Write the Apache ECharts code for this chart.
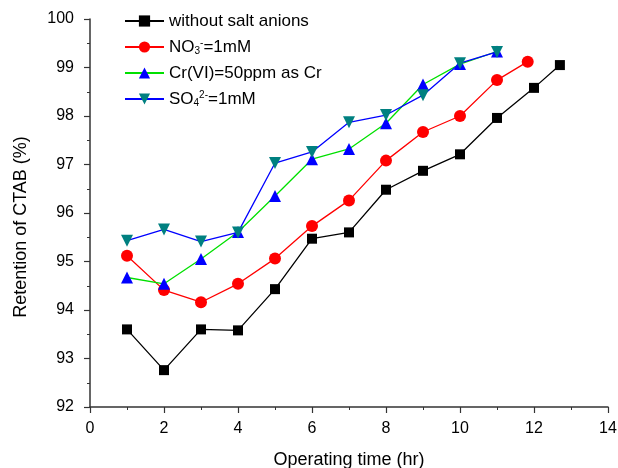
<!DOCTYPE html>
<html><head><meta charset="utf-8">
<script src="https://cdn.jsdelivr.net/npm/echarts@6/dist/echarts.min.js"></script>
<style>html,body{margin:0;padding:0;background:#fff}#c{width:618px;height:468px}</style>
</head><body><div id="c"></div>
<script>
var xNone = [1,2,3,4,5,6,7,8,9,10,11,12,12.7];
var yNone = [93.60,92.76,93.60,93.58,94.43,95.47,95.60,96.48,96.87,97.21,97.96,98.58,99.05];
var xNO3 = [1,2,3,4,5,6,7,8,9,10,11,11.83];
var yNO3 = [95.12,94.41,94.16,94.54,95.06,95.73,96.26,97.08,97.67,98.00,98.74,99.12];
var xCr = [1,2,3,4,5,6,7,8,9,10,11];
var yCr = [94.67,94.54,95.05,95.61,96.35,97.11,97.32,97.85,98.65,99.07,99.33];
var xSO4 = [1,2,3,4,5,6,7,8,9,10,11];
var ySO4 = [95.43,95.66,95.41,95.60,97.03,97.26,97.87,98.02,98.43,99.09,99.32];
var names = ['without salt anions','NO3-=1mM','Cr(VI)=50ppm as Cr','SO42-=1mM'];

function pairs(xs, ys){ return xs.map(function(x,i){ return [x, ys[i]]; }); }

var font = 'Liberation Sans, Arial, sans-serif';
var chart = echarts.init(document.getElementById('c'));
var axisCommon = {
  axisLine:{show:true, onZero:false, lineStyle:{color:'#333', width:1.5}},
  axisTick:{show:true, inside:false, length:6, lineStyle:{color:'#333', width:1.2}},
  minorTick:{show:true, splitNumber:2, length:3, lineStyle:{color:'#333', width:1}},
  splitLine:{show:false},
  axisLabel:{color:'#000', fontSize:16, fontFamily:font},
  nameTextStyle:{color:'#000', fontSize:18, fontFamily:font}
};
chart.setOption({
  animation:false,
  backgroundColor:'#fff',
  grid:{left:90, right:10, top:19, bottom:61, containLabel:false, outerBoundsMode:'none'},
  xAxis: Object.assign({}, axisCommon, {
    type:'value', min:0, max:14, interval:2,
    name:'Operating time (hr)', nameLocation:'middle', nameGap:44,
    axisLabel:Object.assign({}, axisCommon.axisLabel, {margin:14})
  }),
  yAxis: Object.assign({}, axisCommon, {
    type:'value', min:92, max:100, interval:1,
    name:'Retention of CTAB (%)', nameLocation:'middle', nameGap:60, nameRotate:90,
    nameTextStyle:{color:'#000', fontSize:18, fontFamily:font, padding:[0,28,0,0]},
    axisLabel:Object.assign({}, axisCommon.axisLabel, {margin:16})
  }),
  legend:{
    orient:'vertical', left:119, top:7, itemWidth:39, itemHeight:14, itemGap:8,
    data:names,
    textStyle:{color:'#000', fontSize:17, fontFamily:font, lineHeight:18,
      rich:{
        t:{fontSize:17, fontFamily:font, color:'#000', lineHeight:18},
        sub:{fontSize:10, fontFamily:font, color:'#000', verticalAlign:'bottom', lineHeight:18, padding:[8,0,0,0]},
        sup:{fontSize:10, fontFamily:font, color:'#000', verticalAlign:'top', lineHeight:18, padding:[0,0,6,0]}
      }},
    formatter:function(n){
      if(n===names[1]) return '{t|NO}{sub|3}{sup|-}{t|=1mM}';
      if(n===names[3]) return '{t|SO}{sub|4}{sup|2-}{t|=1mM}';
      return '{t|'+n+'}';
    }
  },
  series:[
    {name:names[0], type:'line', data:pairs(xNone,yNone), symbol:'rect', symbolSize:10,
     itemStyle:{color:'#000'}, lineStyle:{color:'#000', width:1.3}},
    {name:names[1], type:'line', data:pairs(xNO3,yNO3), symbol:'circle', symbolSize:12,
     itemStyle:{color:'#ff0000'}, lineStyle:{color:'#ff0000', width:1.3}},
    {name:names[2], type:'line', data:pairs(xCr,yCr), symbol:'triangle', symbolSize:12,
     itemStyle:{color:'#0000ff'}, lineStyle:{color:'#00e000', width:1.3}},
    {name:names[3], type:'line', data:pairs(xSO4,ySO4), symbol:'triangle', symbolRotate:180, symbolSize:12,
     itemStyle:{color:'#008080'}, lineStyle:{color:'#0000ff', width:1.3}}
  ]
});
</script></body></html>
